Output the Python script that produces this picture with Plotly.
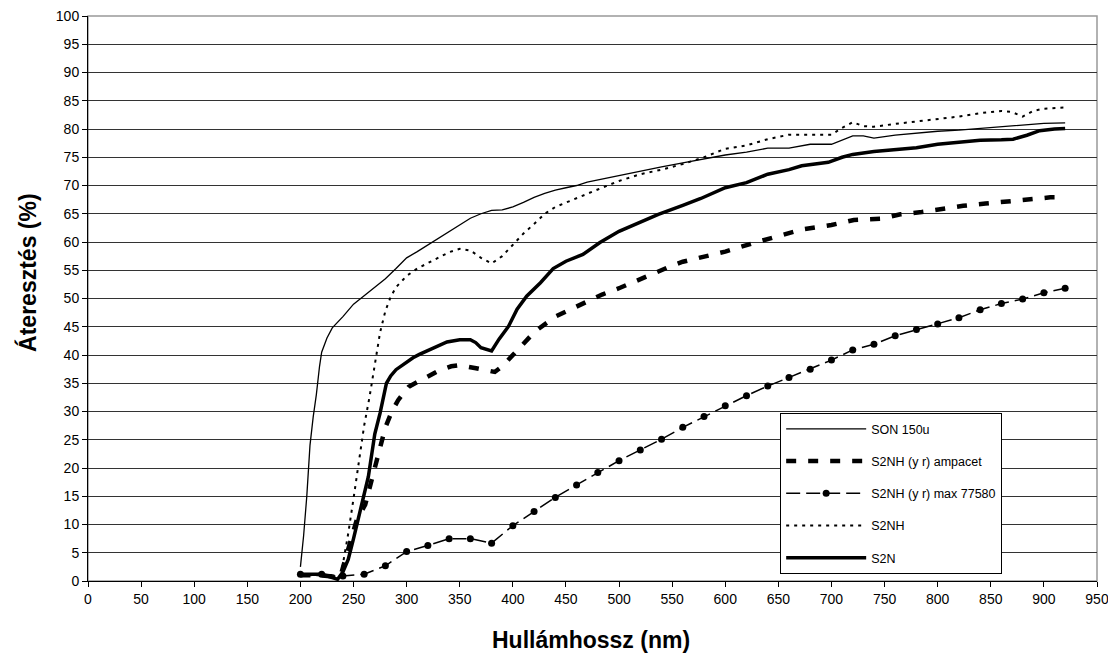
import plotly.graph_objects as go

# ---- data ----
son_x = [200, 203, 206, 209, 212, 215, 218, 220, 225, 230, 240, 250, 260, 270, 280, 290, 300, 310, 320, 330,
         340, 350, 360, 370, 380, 390, 400, 410, 420, 430, 440, 450, 460, 470, 480, 490, 500, 520, 540, 560,
         580, 600, 620, 640, 660, 680, 700, 710, 720, 730, 740, 760, 780, 800, 820, 840, 860, 880, 900, 920]
son_y = [2.5, 8, 15, 24, 29, 33, 38, 40.5, 43, 44.8, 46.8, 49, 50.5, 52, 53.5, 55.3, 57.2, 58.3, 59.5, 60.6,
         61.8, 63, 64.2, 65, 65.6, 65.7, 66.2, 67, 67.9, 68.6, 69.2, 69.6, 70, 70.6, 71, 71.4, 71.8, 72.5, 73.3, 74,
         74.7, 75.4, 75.9, 76.6, 76.6, 77.3, 77.3, 78, 78.8, 78.8, 78.4, 78.9, 79.3, 79.6, 79.8, 80.1, 80.4, 80.7, 81.0, 81.1]

amp_x = [200, 220, 230, 238, 242, 248, 253, 261, 267, 273, 280, 286, 292, 302, 319, 330, 342, 350, 364, 383,
         390, 402, 421, 441, 463, 484, 501, 520, 546, 560, 580, 600, 628, 650, 672, 700, 721, 746, 765, 785,
         805, 824, 845, 865, 885, 906, 920]
amp_y = [1.0, 1.0, 0.8, 1.0, 3.7, 7.5, 10.8, 13.5, 17.9, 22.6, 27.2, 30, 32, 34.4, 36.2, 37.2, 38, 38.2, 37.7, 37,
         38, 40.4, 44.2, 46.9, 48.9, 50.7, 51.9, 53.5, 55.5, 56.5, 57.3, 58.3, 59.9, 61, 62.2, 63, 63.9, 64.1, 64.9, 65.3,
         65.9, 66.4, 66.8, 67.1, 67.4, 67.9, 67.9]

max_x = [200, 220, 240, 260, 280, 300, 320, 340, 360, 380, 400, 420, 440, 460, 480, 500, 520, 540, 560,
         580, 600, 620, 640, 660, 680, 700, 720, 740, 760, 780, 800, 820, 840, 860, 880, 900, 920]
max_y = [1.2, 1.2, 0.9, 1.2, 2.7, 5.2, 6.3, 7.5, 7.5, 6.7, 9.8, 12.3, 14.8, 17.0, 19.2, 21.3, 23.2, 25.1, 27.2,
         29.1, 31.0, 32.8, 34.5, 36.0, 37.5, 39.1, 40.9, 41.9, 43.4, 44.5, 45.5, 46.6, 48.0, 49.1, 49.9, 51.0, 51.8]

s2nh_x = [200, 220, 230, 238, 240, 245, 250, 255, 260, 265, 270, 275, 280, 285, 290, 300, 310, 320, 330, 340,
          350, 360, 370, 380, 390, 400, 410, 420, 430, 440, 450, 460, 480, 500, 520, 540, 560, 580, 600, 620,
          640, 660, 680, 700, 710, 720, 730, 740, 760, 780, 800, 820, 840, 860, 870, 880, 890, 900, 920]
s2nh_y = [1.0, 1.0, 0.8, 1.0, 3.0, 8.4, 14.6, 21.5, 27.5, 32.5, 38, 44, 47.8, 50.3, 52, 54, 55.3, 56.3, 57.3, 58.2,
          58.8, 58.5, 57.2, 56.2, 57.5, 59.5, 61.5, 63.2, 65, 66.2, 67, 67.7, 69.3, 70.8, 72, 72.8, 73.8, 75, 76.5, 77.1,
          78.2, 79, 79, 79, 80.2, 81.2, 80.5, 80.4, 80.9, 81.3, 81.8, 82.2, 82.8, 83.2, 83.0, 82.2, 83.2, 83.6, 83.8]

s2n_x = [200, 220, 230, 235, 240, 245, 250, 256, 260, 264, 270, 275, 281, 285, 290, 300, 306, 312, 322, 338,
         350, 360, 365, 370, 380, 387, 396, 404, 413, 426, 438, 450, 466, 482, 500, 520, 537, 560, 577, 600,
         620, 640, 660, 672, 697, 710, 720, 740, 760, 780, 800, 820, 840, 860, 871, 884, 896, 910, 920]
s2n_y = [1.2, 1.2, 0.6, 0.3, 1.6, 3.8, 7.5, 12, 15.2, 18.5, 26, 29.7, 35, 36.3, 37.4, 38.8, 39.5, 40.1, 41, 42.3,
         42.7, 42.7, 42.2, 41.3, 40.7, 42.8, 45.1, 48.1, 50.4, 52.8, 55.3, 56.6, 57.8, 59.9, 61.9, 63.6, 64.9, 66.5, 67.7, 69.6,
         70.5, 72, 72.8, 73.5, 74.1, 75, 75.5, 76, 76.4, 76.7, 77.3, 77.7, 78.0, 78.1, 78.2, 78.9, 79.7, 80, 80.1]

x_ticks = list(range(0, 951, 50))
y_ticks = list(range(0, 101, 5))

x_title = "Hullámhossz (nm)"
y_title = "Áteresztés (%)"

FONT = "Liberation Sans, Arial, sans-serif"

fig = go.Figure()
fig.add_trace(go.Scatter(x=son_x, y=son_y, mode="lines", name="SON 150u", legendgroup="a",
                         line=dict(color="black", width=1.3)))
fig.add_trace(go.Scatter(x=amp_x, y=amp_y, mode="lines", name="S2NH (y r) ampacet", legendgroup="b",
                         line=dict(color="black", width=4.5, dash="10px,12px")))
fig.add_trace(go.Scatter(x=max_x, y=max_y, mode="lines+markers", name="S2NH (y r) max 77580", legendgroup="c",
                         line=dict(color="black", width=1.5, dash="14px,6px"),
                         marker=dict(color="black", size=7, symbol="circle")))
fig.add_trace(go.Scatter(x=s2nh_x, y=s2nh_y, mode="lines", name="S2NH", legendgroup="d",
                         line=dict(color="black", width=2, dash="3px,5px")))
fig.add_trace(go.Scatter(x=s2n_x, y=s2n_y, mode="lines", name="S2N", legendgroup="e",
                         line=dict(color="black", width=3.5)))

fig.update_layout(
    width=1108, height=647,
    margin=dict(l=80, r=19, t=8, b=74, autoexpand=False),
    paper_bgcolor="white", plot_bgcolor="white",
    font=dict(family=FONT, size=14, color="black"),
    showlegend=True,
    legend=dict(x=0.686, y=0.297, xanchor="left", yanchor="top",
                bgcolor="white", bordercolor="black", borderwidth=1,
                font=dict(family=FONT, size=12.5, color="black"),
                tracegroupgap=13, itemwidth=80, traceorder="grouped"),
    xaxis=dict(range=[0, 950], tickvals=x_ticks, ticktext=[str(v) for v in x_ticks],
               showgrid=False, zeroline=False, showline=True, linecolor="black", linewidth=1,
               ticks="outside", ticklen=5, tickcolor="black", tickfont=dict(size=14),
               automargin=False, ticklabeloverflow="allow"),
    yaxis=dict(range=[0, 100], tickvals=y_ticks, ticktext=[str(v) for v in y_ticks],
               showgrid=True, gridcolor="#333333", gridwidth=1, zeroline=False,
               showline=True, linecolor="black", linewidth=1,
               ticks="outside", ticklen=5, tickcolor="black", tickfont=dict(size=14),
               automargin=False, ticklabeloverflow="allow"),
    annotations=[
        dict(text="<b>" + x_title + "</b>", xref="paper", yref="paper", x=0.4985, y=-0.1044,
             xanchor="center", yanchor="middle", showarrow=False,
             font=dict(family=FONT, size=23, color="black")),
        dict(text="<b>" + y_title + "</b>", xref="paper", yref="paper", x=-0.0595, y=0.547,
             xanchor="center", yanchor="middle", showarrow=False, textangle=-90,
             font=dict(family=FONT, size=23, color="black")),
    ],
    shapes=[dict(type="rect", xref="paper", yref="paper", x0=0, x1=1, y0=0, y1=1,
                 line=dict(color="#999999", width=1.5), layer="below")],
)

fig.write_html("out.html")
